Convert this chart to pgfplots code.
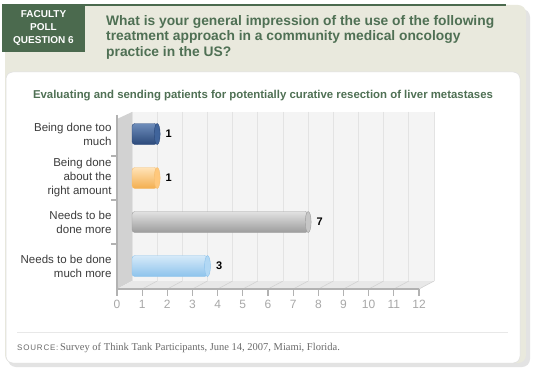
\documentclass[border=0pt]{standalone}
\usepackage{fontspec}
\setmainfont{Liberation Sans}
\newfontfamily\srcserif{Liberation Serif}
\usepackage{pgfplots}
\pgfplotsset{compat=1.18}
\definecolor{beige}{HTML}{E9E9DD}
\definecolor{hdrgreen}{HTML}{4B6A4E}
\definecolor{txtgreen}{HTML}{4F7054}
\definecolor{lblgray}{HTML}{3C3C3C}
\definecolor{tickgray}{HTML}{A8A8A8}
\definecolor{srcgray}{HTML}{6A6A6A}
\definecolor{bluetop}{HTML}{6E8DBB}
\definecolor{bluemid}{HTML}{40649B}
\definecolor{bluebot}{HTML}{2B497A}
\definecolor{orgtop}{HTML}{FFE3B8}
\definecolor{orgmid}{HTML}{FFC87C}
\definecolor{orgbot}{HTML}{F3AE4E}
\definecolor{grytop}{HTML}{E2E2E2}
\definecolor{grymid}{HTML}{C6C6C6}
\definecolor{grybot}{HTML}{9C9C9C}
\definecolor{lbtop}{HTML}{D6EAF9}
\definecolor{lbmid}{HTML}{B2D8F4}
\definecolor{lbbot}{HTML}{8DC3EC}
\begin{document}
\begin{tikzpicture}[x=1pt,y=-1pt]
\fill[white] (0,0) rectangle (540,374);
% panel shadow and panel
\fill[gray!22, rounded corners=8pt] (8,9) rectangle (530,367);
\fill[beige, rounded corners=8pt] (5,5) rectangle (526,363);
\draw[hdrgreen, line width=2.5pt] (85,5) -- (506,5);
\fill[white, rounded corners=7pt] (6,72) rectangle (520,363);
\draw[gray!25, line width=0.5pt, rounded corners=7pt] (6,72) rectangle (520,363);
% header box
\fill[hdrgreen] (2,4) rectangle (85,52);
\node[white, font=\bfseries\fontsize{10}{13}\selectfont, align=center] at (43.5,27.5) {FACULTY\\POLL\\QUESTION 6};
\node[anchor=north west, txtgreen, font=\bfseries\fontsize{13.8}{15.8}\selectfont, align=left, inner sep=0pt] at (106,15) {What is your general impression of the use of the following\\treatment approach in a community medical oncology\\practice in the US?};
% chart title
\node[txtgreen, font=\bfseries\fontsize{11.4}{13}\selectfont] at (263,96) {Evaluating and sending patients for potentially curative resection of liver metastases};
% left wall and floor
\fill[gray!35] (117,119) -- (132,112) -- (132,281) -- (117,289) -- cycle;
\fill[gray!18] (132,281) -- (434,281) -- (419,289) -- (117,289) -- cycle;
\foreach \k in {1,...,12} {
  \draw[gray!35, line width=0.6pt] ({132+25.17*\k},281) -- ({117+25.17*\k},289);
}
\begin{axis}[
  at={(132pt,-281pt)}, anchor=south west,
  scale only axis, width=302pt, height=169pt,
  xmin=0, xmax=12, ymin=-0.5, ymax=3.34, y dir=reverse,
  axis background/.style={fill=gray!9},
  axis line style={draw=none}, tick style={draw=none},
  major tick length=0pt,
  xtick={0,...,12}, xmajorgrids, grid style={gray!22, line width=0.9pt},
  ytick={0,1,2,3},
  yticklabels={{Being done too\\much},{Being done\\about the\\right amount},{Needs to be\\done more},{Needs to be done\\much more}},
  yticklabel style={align=right, anchor=east, xshift=-17pt, font=\fontsize{11.5}{14}\selectfont, text=lblgray},
  xticklabel style={anchor=center, yshift=-23pt, xshift=-15pt, font=\fontsize{12}{14}\selectfont, text=tickgray},
  /pgf/number format/assume math mode=true,
  xbar, bar width=21pt, bar shift=0pt,
  nodes near coords,
  nodes near coords style={font=\bfseries\fontsize{11}{13}\selectfont, text=black, anchor=west, xshift=5pt},
  clip=false,
]
\addplot[draw=bluebot, top color=bluetop, middle color=bluemid, bottom color=bluebot, rounded corners=3pt,
  mark=*, mark size=10.5pt, mark options={xscale=0.28, draw=bluebot, fill=bluemid, rounded corners=0pt}] coordinates {(1,0)};
\addplot[draw=orgbot!80, top color=orgtop, middle color=orgmid, bottom color=orgbot, rounded corners=3pt,
  mark=*, mark size=10.5pt, mark options={xscale=0.28, draw=orgbot!80, fill=orgmid, rounded corners=0pt}] coordinates {(1,1)};
\addplot[draw=grybot, top color=grytop, middle color=grymid, bottom color=grybot, rounded corners=3pt,
  mark=*, mark size=10.5pt, mark options={xscale=0.28, draw=grybot, fill=grymid, rounded corners=0pt}] coordinates {(7,2)};
\addplot[draw=lbbot, top color=lbtop, middle color=lbmid, bottom color=lbbot, rounded corners=3pt,
  mark=*, mark size=10.5pt, mark options={xscale=0.28, draw=lbbot, fill=lbmid, rounded corners=0pt}] coordinates {(3,3)};
\end{axis}
% front axis and ticks
\draw[gray!60, line width=1.2pt] (117,115) -- (117,296);
\draw[gray!60, line width=1.2pt] (117,289) -- (419,289);
\foreach \k in {1,...,12} {
  \draw[gray!60, line width=1.2pt] ({117+25.17*\k},289) -- ({117+25.17*\k},296);
}
\foreach \yy in {156,200,244} {
  \draw[gray!60, line width=1.2pt] (111,\yy) -- (117,\yy);
}
% source
\draw[gray!18, line width=0.8pt] (17,332) -- (508,332);
\node[anchor=west, inner sep=0pt, text=srcgray] at (17,348) {{\fontsize{8}{10}\selectfont\addfontfeature{LetterSpace=10}SOURCE:}\,{\srcserif\fontsize{10.5}{12}\selectfont Survey of Think Tank Participants, June 14, 2007, Miami, Florida.}};
\end{tikzpicture}
\end{document}
